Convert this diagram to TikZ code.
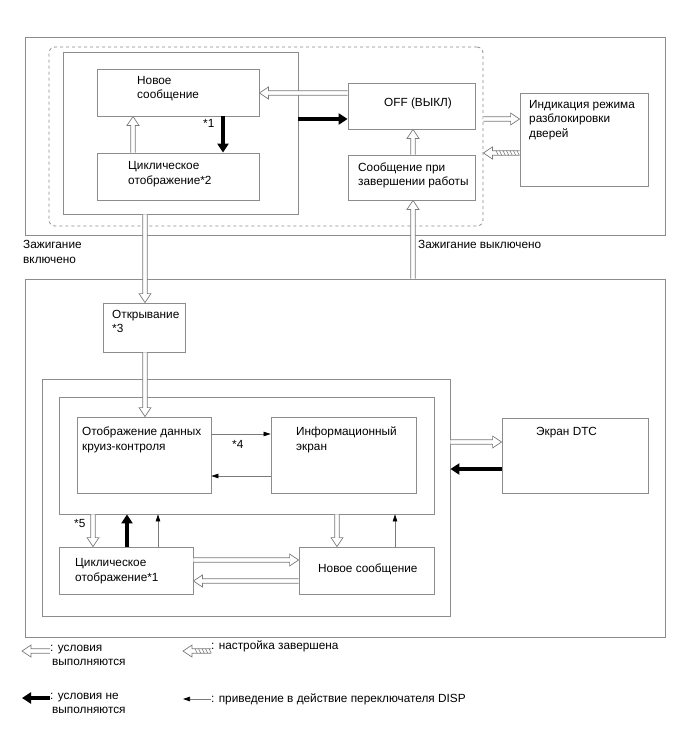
\documentclass[tikz,border=0pt]{standalone}
\usepackage{fontspec}
\setmainfont{Liberation Sans}
\usetikzlibrary{arrows.meta,fit,calc}
\definecolor{boxgray}{HTML}{8C8C8C}
\definecolor{argray}{HTML}{7A7A7A}
\tikzset{
  box/.style={draw=boxgray, line width=0.8pt, inner sep=0pt},
  txt/.style={inner sep=0pt, align=left, font=\fontsize{11.8}{14.5}\selectfont, anchor=base west},
  hol/.style={draw=argray, fill=white, line width=0.7pt, line join=miter, to path={
    let \p1=(\tikztostart), \p2=(\tikztotarget),
        \n1={veclen((\x2)-(\x1),(\y2)-(\y1))},
        \n2={((\x2)-(\x1))/(\n1)}, \n3={((\y2)-(\y1))/(\n1)}
    in ({(\x1)-(\n3)*2.2},{(\y1)+(\n2)*2.2})
    -- ({(\x2)-(\n2)*9-(\n3)*2.2},{(\y2)-(\n3)*9+(\n2)*2.2})
    -- ({(\x2)-(\n2)*9-(\n3)*6},{(\y2)-(\n3)*9+(\n2)*6})
    -- (\x2,\y2)
    -- ({(\x2)-(\n2)*9+(\n3)*6},{(\y2)-(\n3)*9-(\n2)*6})
    -- ({(\x2)-(\n2)*9+(\n3)*2.2},{(\y2)-(\n3)*9-(\n2)*2.2})
    -- ({(\x1)+(\n3)*2.2},{(\y1)-(\n2)*2.2})
  }},
  blk/.style={draw=black, line width=4.5pt, -{Triangle[length=9pt,width=11pt]}},
  thin/.style={draw=argray, line width=0.7pt, -{Triangle[length=7pt,width=4.5pt,color=black]}},
}
\begin{document}
\begin{tikzpicture}[x=1pt,y=-1pt]
\useasboundingbox (0,0) rectangle (688,755);
% ---------- top group ----------
\node[box, fit={(25,37) (665,235)}] (outerTop) {};
\node[draw=boxgray, dashed, line width=0.8pt, rounded corners=6pt, inner sep=0pt, fit={(49,47) (483,226)}] (dash) {};
\node[box, fit={(63,52) (298,214)}] (inner1) {};
\node[box, fit={(97,69) (259,116)}] (new1) {};
\node[box, fit={(97,153) (259,200)}] (cyc1) {};
\node[box, fit={(348,83) (475,129)}] (off) {};
\node[box, fit={(348,155) (475,200)}] (fin) {};
\node[box, fit={(520,93) (648,186)}] (ind) {};
% multi-line texts: anchor at the baseline of the LAST line
\node[txt] (t1) at (137,98.5) {Новое\\сообщение};
\node[txt] (t2) at (128,184) {Циклическое\\отображение*2};
\node[txt] (s1) at (203,127) {*1};
\node[txt, anchor=base] (t3) at (418,106) {OFF (ВЫКЛ)};
\node[txt] (t4) at (358,185.5) {Сообщение при\\завершении работы};
\node[txt] (t5) at (529,137) {Индикация режима\\разблокировки\\дверей};
\node[txt] (t6) at (418,248) {Зажигание выключено};
\node[txt] (t7) at (23,263) {Зажигание\\включено};
% ---------- bottom group ----------
\node[box, fit={(25,279) (665,637)}] (outerBot) {};
\node[box, fit={(103,303) (185,352)}] (open) {};
\node[box, fit={(42,379) (450,616)}] (box2) {};
\node[box, fit={(59,397) (434,514)}] (box3) {};
\node[box, fit={(77,417) (211,493)}] (cruise) {};
\node[box, fit={(271,417) (416,493)}] (info) {};
\node[box, fit={(502,418) (648,493)}] (dtc) {};
\node[box, fit={(59,547) (193,594)}] (cyc2) {};
\node[box, fit={(299,547) (434,594)}] (new2) {};
\node[txt] (t8) at (112,332.5) {Открывание\\*3};
\node[txt] (t9) at (82,450) {Отображение данных\\круиз-контроля};
\node[txt] (t10) at (296,450) {Информационный\\экран};
\node[txt] (s4) at (232,448) {*4};
\node[txt] (t11) at (536,435) {Экран DTC};
\node[txt] (s5) at (74,527) {*5};
\node[txt] (t12) at (75,581) {Циклическое\\отображение*1};
\node[txt] (t13) at (318,572) {Новое сообщение};
% ---------- connectors (top) ----------
\draw[hol] (off.west |- 0,93) to (new1.east |- 0,93);
\draw[blk] (inner1.east |- 0,119) -- (off.west |- 0,119);
\draw[hol] (cyc1.north -| 133,0) to (new1.south -| 133,0);
\draw[blk] (new1.south -| 223,0) -- (cyc1.north -| 223,0);
\draw[hol] (fin.north -| 413,0) to (off.south -| 413,0);
\draw[hol] (dash.east |- 0,119) to (ind.west |- 0,119);
\draw[hol] (ind.west |- 0,153) to (dash.east |- 0,153);
\foreach \xx in {496,499.5,...,517} \draw[argray, line width=0.6pt] (\xx,150.8) -- (\xx+2.2,155.2);
\draw[hol] (outerBot.north -| 413,0) to (fin.south -| 413,0);
\draw[hol] (inner1.south -| 145,0) to (open.north -| 145,0);
% ---------- connectors (bottom) ----------
\draw[hol] (open.south -| 145,0) to (cruise.north -| 145,0);
\draw[thin] (cruise.east |- 0,434) -- (info.west |- 0,434);
\draw[thin] (info.west |- 0,476) -- (cruise.east |- 0,476);
\draw[hol] (box2.east |- 0,442) to (dtc.west |- 0,442);
\draw[blk] (dtc.west |- 0,469) -- (box2.east |- 0,469);
\draw[hol] (box3.south -| 93,0) to (cyc2.north -| 93,0);
\draw[blk] (cyc2.north -| 127,0) -- (box3.south -| 127,0);
\draw[thin] (cyc2.north -| 158,0) -- (box3.south -| 158,0);
\draw[hol] (cyc2.east |- 0,560) to (new2.west |- 0,560);
\draw[hol] (new2.west |- 0,581) to (cyc2.east |- 0,581);
\draw[hol] (box3.south -| 337,0) to (new2.north -| 337,0);
\draw[thin] (new2.north -| 395,0) -- (box3.south -| 395,0);
% ---------- legend ----------
\coordinate (l1a) at (50,651); \coordinate (l1b) at (22,651);
\coordinate (l2a) at (50,698); \coordinate (l2b) at (22,698);
\coordinate (l3a) at (211,651); \coordinate (l3b) at (183,651);
\coordinate (l4a) at (211,699); \coordinate (l4b) at (183,699);
\draw[hol] (l1a) to (l1b);
\draw[blk] (l2a) -- (l2b);
\draw[hol] (l3a) to (l3b);
\foreach \xx in {195,198.5,...,209} \draw[argray, line width=0.6pt] (\xx,648.8) -- (\xx+2.2,653.2);
\draw[thin] (l4a) -- (l4b);
\node[txt] (g1) at (50,665.5) {: условия\\\hspace{2pt}выполняются};
\node[txt] (g2) at (50,713.5) {: условия не\\\hspace{2pt}выполняются};
\node[txt] (g3) at (211,649) {: настройка завершена};
\node[txt] (g4) at (211,702) {: приведение в действие переключателя DISP};
\end{tikzpicture}
\end{document}
